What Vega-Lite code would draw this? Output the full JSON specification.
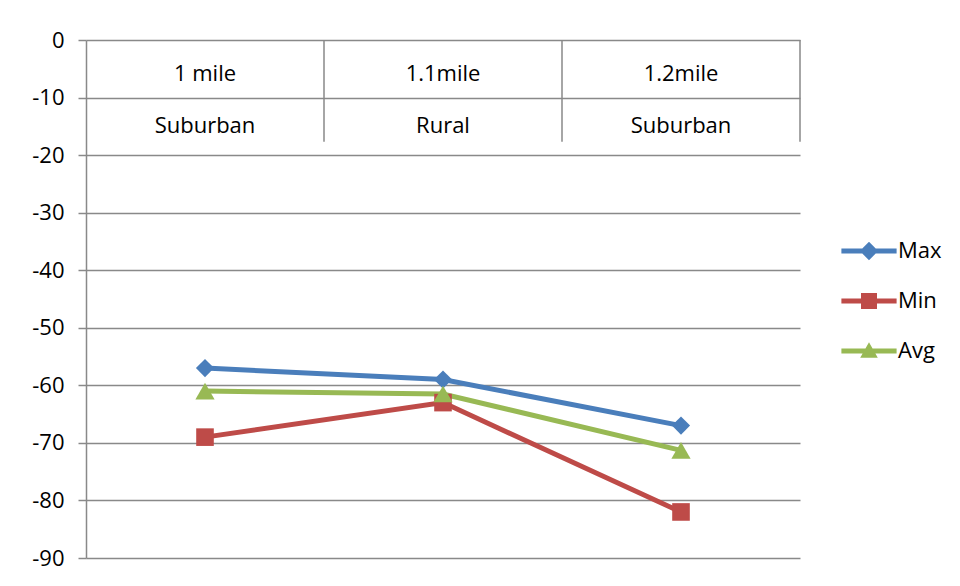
{
  "$schema": "https://vega.github.io/schema/vega-lite/v6.json",
  "autosize": "none",
  "width": 714,
  "height": 518,
  "padding": {"left": 86, "top": 40, "right": 160, "bottom": 28},
  "background": "white",
  "config": {
    "view": {"stroke": null},
    "font": "Open Sans",
    "axis": {"labelFont": "Open Sans", "labelFontSize": 22, "labelColor": "#000000"},
    "legend": {"labelFont": "Open Sans", "labelFontSize": 22, "labelColor": "#000000"}
  },
  "datasets": {
    "series": [
      {"cat": "1 mile", "series": "Max", "value": -57},
      {"cat": "1.1mile", "series": "Max", "value": -59},
      {"cat": "1.2mile", "series": "Max", "value": -67},
      {"cat": "1 mile", "series": "Min", "value": -69},
      {"cat": "1.1mile", "series": "Min", "value": -63},
      {"cat": "1.2mile", "series": "Min", "value": -82},
      {"cat": "1 mile", "series": "Avg", "value": -61},
      {"cat": "1.1mile", "series": "Avg", "value": -61.5},
      {"cat": "1.2mile", "series": "Avg", "value": -71.3}
    ],
    "cats": [
      {"cat": "1 mile", "area": "Suburban"},
      {"cat": "1.1mile", "area": "Rural"},
      {"cat": "1.2mile", "area": "Suburban"}
    ]
  },
  "encoding": {
    "x": {"field": "cat", "type": "nominal", "scale": {"domain": ["1 mile", "1.1mile", "1.2mile"], "type": "band", "paddingInner": 0, "paddingOuter": 0}, "axis": null}
  },
  "layer": [
    {
      "data": {"name": "series"},
      "mark": {"type": "point", "filled": true, "opacity": 0},
      "encoding": {
        "y": {"field": "value", "type": "quantitative", "scale": {"domain": [-90, 0], "nice": false, "zero": false},
          "axis": {"values": [0, -10, -20, -30, -40, -50, -60, -70, -80, -90], "labelExpr": "'' + datum.value", "title": null, "grid": true, "gridColor": "#898989", "gridWidth": 1.5, "domainColor": "#898989", "domainWidth": 1.5, "tickColor": "#898989", "tickWidth": 1.5, "tickSize": 8, "labelPadding": 14}},
        "color": {"field": "series", "type": "nominal", "scale": {"domain": ["Max", "Min", "Avg"], "range": ["#4A7EBB", "#BE4B48", "#98B954"]},
          "legend": {"title": null, "orient": "none", "legendX": 772, "legendY": 200, "symbolSize": 256, "labelOffset": 18, "rowPadding": 28, "symbolOpacity": 1,
            "encode": {"symbols": {"update": {"opacity": {"value": 1}, "fillOpacity": {"value": 1}, "strokeWidth": {"value": 0}}}}}},
        "shape": {"field": "series", "type": "nominal", "scale": {"domain": ["Max", "Min", "Avg"], "range": [
          "M-3.45,-0.3H3.45V0.3H-3.45Z M0,-1.15L1.15,0L0,1.15L-1.15,0Z",
          "M-3.45,-0.3H3.45V0.3H-3.45Z M-1,-1H1V1H-1Z",
          "M-3.45,-0.3H3.45V0.3H-3.45Z M0,-1.1L1.1,0.85H-1.1Z"
        ]}}
      }
    },
    {
      "data": {"name": "series"},
      "transform": [{"filter": "datum.series === 'Max'"}],
      "mark": {"type": "line", "strokeWidth": 5, "color": "#4A7EBB"},
      "encoding": {"y": {"field": "value", "type": "quantitative"}}
    },
    {
      "data": {"name": "series"},
      "transform": [{"filter": "datum.series === 'Min'"}],
      "mark": {"type": "line", "strokeWidth": 5, "color": "#BE4B48"},
      "encoding": {"y": {"field": "value", "type": "quantitative"}}
    },
    {
      "data": {"name": "series"},
      "transform": [{"filter": "datum.series === 'Avg'"}],
      "mark": {"type": "line", "strokeWidth": 5, "color": "#98B954"},
      "encoding": {"y": {"field": "value", "type": "quantitative"}}
    },
    {
      "data": {"name": "series"},
      "transform": [{"filter": "datum.series === 'Max'"}],
      "mark": {"type": "point", "shape": "diamond", "filled": true, "opacity": 1, "color": "#4A7EBB", "size": 330},
      "encoding": {"y": {"field": "value", "type": "quantitative"}}
    },
    {
      "data": {"name": "series"},
      "transform": [{"filter": "datum.series === 'Min'"}],
      "mark": {"type": "point", "shape": "square", "filled": true, "opacity": 1, "color": "#BE4B48", "size": 310},
      "encoding": {"y": {"field": "value", "type": "quantitative"}}
    },
    {
      "data": {"name": "series"},
      "transform": [{"filter": "datum.series === 'Avg'"}],
      "mark": {"type": "point", "shape": "triangle-up", "filled": true, "opacity": 1, "color": "#98B954", "size": 370},
      "encoding": {"y": {"field": "value", "type": "quantitative"}}
    },
    {
      "data": {"name": "cats"},
      "mark": {"type": "text", "fontSize": 22, "font": "Open Sans", "color": "#000000", "baseline": "middle"},
      "encoding": {
        "y": {"datum": -5.9},
        "text": {"field": "cat"}
      }
    },
    {
      "data": {"name": "cats"},
      "mark": {"type": "text", "fontSize": 22, "font": "Open Sans", "color": "#000000", "baseline": "middle"},
      "encoding": {
        "y": {"datum": -14.9},
        "text": {"field": "area"}
      }
    },
    {
      "data": {"name": "cats"},
      "mark": {"type": "rule", "color": "#898989", "strokeWidth": 1.5},
      "encoding": {
        "x": {"field": "cat", "type": "nominal", "bandPosition": 1},
        "y": {"datum": 0},
        "y2": {"datum": -17.7}
      }
    }
  ]
}
